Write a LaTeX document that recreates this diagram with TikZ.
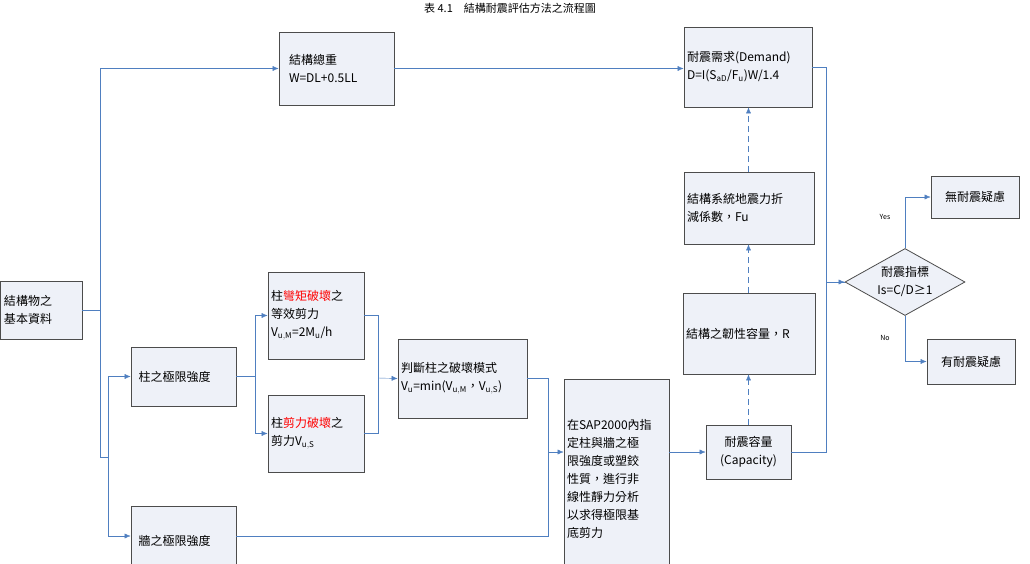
\documentclass[tikz,border=0pt]{standalone}
\usepackage{fontspec}
\setmainfont{Noto Sans CJK TC}
\usetikzlibrary{shapes.geometric,arrows.meta}
\definecolor{linkblue}{HTML}{4F7FC0}
\definecolor{boxfill}{HTML}{EEF1F8}
\newcommand{\sub}[1]{$_{\mathrm{#1}}$}
\tikzset{
	box/.style={draw=black!70,fill=boxfill,thick,inner sep=3pt,align=left,font=\fontsize{12}{18}\selectfont},
	link/.style={draw=linkblue,-{Latex[length=6pt,width=5pt]}},
	line/.style={draw=linkblue},
	dlink/.style={link,dashed,dash pattern=on 6pt off 4pt},
}
\begin{document}
\begin{tikzpicture}[x=1pt,y=-1pt]
	\useasboundingbox (0,0) rectangle (1030,563);
	
	\node (title) at (510,8) {\fontsize{11}{11}\selectfont 表 4.1\quad 結構耐震評估方法之流程圖};
	
	\node[box,minimum width=82pt,minimum height=58pt,text width=74pt] (base) at (41,310) {結構物之\\基本資料};
	\node[box,minimum width=115pt,minimum height=73pt,text width=95pt] (weight) at (336.5,68.5) {結構總重\\W=DL+0.5LL};
	\node[box,minimum width=128pt,minimum height=80pt,text width=122pt] (demand) at (748,67) {耐震需求(Demand)\\D=I(S\sub{aD}/F\sub{u})W/1.4};
	\node[box,minimum width=130pt,minimum height=72pt,text width=124pt] (fu) at (749,208) {結構系統地震力折\\減係數，Fu};
	\node[box,minimum width=132pt,minimum height=81pt,text width=126pt] (duct) at (749,333.5) {結構之韌性容量，R};
	\node[box,minimum width=85pt,minimum height=54pt,align=center] (cap) at (748.5,452) {耐震容量\\(Capacity)};
	\node[box,minimum width=105pt,minimum height=200pt,anchor=north,text width=99pt] (sap) at (616.5,379) {在SAP2000內指\\定柱與牆之極\\限強度或塑鉸\\性質，進行非\\線性靜力分析\\以求得極限基\\底剪力\\[60pt]};
	\node[box,minimum width=129pt,minimum height=79pt,text width=123pt] (mode) at (462.5,378.5) {判斷柱之破壞模式\\V\sub{u}=min(V\sub{u,M}，V\sub{u,S})};
	\node[box,minimum width=96pt,minimum height=87pt,text width=90pt] (moment) at (316,315.5) {柱\textcolor{red}{彎矩破壞}之\\等效剪力\\V\sub{u,M}=2M\sub{u}/h};
	\node[box,minimum width=96pt,minimum height=77pt,text width=90pt] (shear) at (316,433.5) {柱\textcolor{red}{剪力破壞}之\\剪力V\sub{u,S}};
	\node[box,minimum width=105pt,minimum height=59pt,text width=90pt] (col) at (183.5,376.5) {柱之極限強度};
	\node[box,minimum width=105pt,minimum height=70pt,anchor=north,text width=90pt] (wall) at (183.5,506) {牆之極限強度\\[14pt]};
	\node[box,diamond,aspect=1.8,minimum width=120pt,minimum height=67pt,inner sep=0pt,align=center] (index) at (905,282) {耐震指標\\Is=C/D≥1};
	\node[box,minimum width=88pt,minimum height=42pt,align=center] (safe) at (975,197) {無耐震疑慮};
	\node[box,minimum width=88pt,minimum height=45pt,align=center] (unsafe) at (971,361.5) {有耐震疑慮};
	
	\coordinate (b1) at (100,310);
	\coordinate (b2) at (108,457);
	\draw[line] (base.east) -- (b1);
	\draw[link] (b1) |- (weight.west);
	\draw[line] (b1) |- (b2);
	\draw[link] (b2) |- (col.west);
	\draw[link] (b2) |- (wall.west |- 0,536);
	
	\draw[link] (col.east) -- ++(19,0) |- (moment.west);
	\draw[link] (col.east) -- ++(19,0) |- (shear.west);
	\draw[line] (moment.east) -- ++(14,0) |- (shear.east);
	\draw[link] (378,378) -- (mode.west);
	
	\draw[link] (mode.east) -- ++(21,0) |- (sap.west |- cap.west);
	\draw[line] (wall.east |- 0,536) -| (548,452);
	\draw[link] (sap.east |- cap.west) -- (cap.west);
	
	\draw[dlink] (cap.north) -- (duct.south -| cap.north);
	\draw[dlink] (duct.north -| cap.north) -- (fu.south -| cap.north);
	\draw[dlink] (fu.north -| cap.north) -- (demand.south -| cap.north);
	\draw[link] (weight.east) -- (demand.west |- weight.east);
	
	\draw[line] (demand.east) -- ++(14,0) |- (index.west);
	\draw[line] (cap.east) -| (826,282);
	\draw[link] (826,282) -- (index.west);
	
	\draw[link] (index.north) |- (safe.west);
	\draw[link] (index.south) |- (unsafe.west);
	\node[font=\fontsize{7}{8}\selectfont] (yes) at (885,217) {Yes};
	\node[font=\fontsize{7}{8}\selectfont] (no) at (885,338) {No};
	
\end{tikzpicture}
\end{document}
